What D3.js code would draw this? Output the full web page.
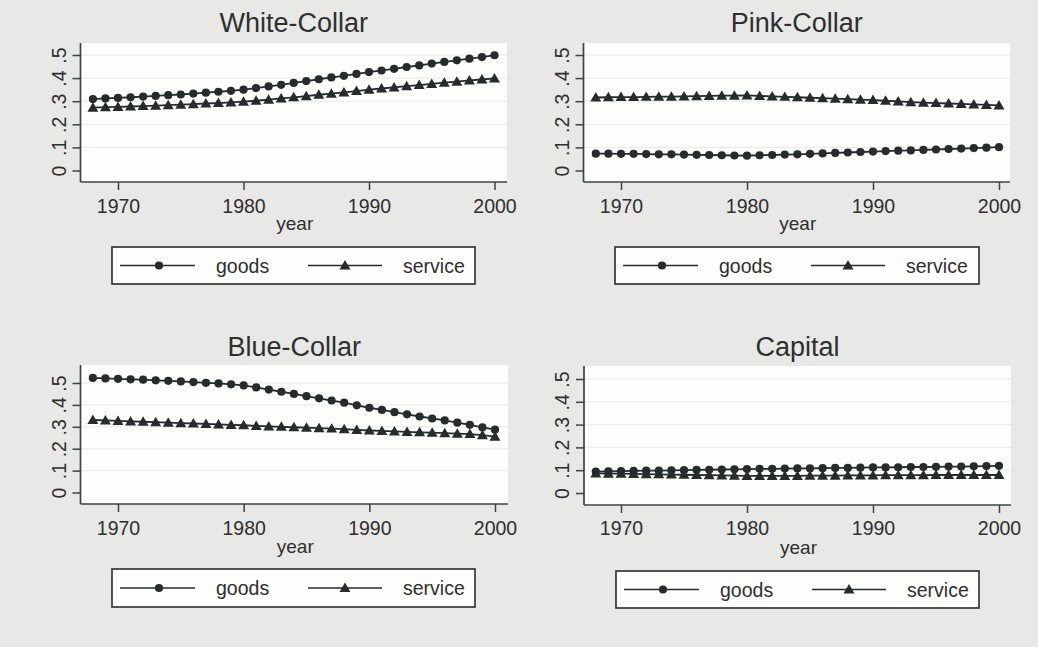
<!DOCTYPE html>
<html>
<head>
<meta charset="utf-8">
<script src="https://cdn.jsdelivr.net/npm/d3@7"></script>
<style>
  html, body { margin: 0; padding: 0; background: #e8e8e6; }
  svg { display: block; font-family: "Liberation Sans", Arial, sans-serif; }
</style>
</head>
<body>
<svg id="chart" width="1038" height="647"></svg>
<script>
// ---------------- DATA ----------------
const years = [1968,1969,1970,1971,1972,1973,1974,1975,1976,1977,1978,1979,1980,
               1981,1982,1983,1984,1985,1986,1987,1988,1989,1990,
               1991,1992,1993,1994,1995,1996,1997,1998,1999,2000];

const panelTitles = ["White-Collar", "Pink-Collar", "Blue-Collar", "Capital"];
const seriesNames = ["goods", "service"];

const whiteGoods   = [.309,.312,.314,.317,.320,.323,.326,.329,.333,.337,.341,.345,.350,
                      .357,.364,.371,.379,.387,.395,.403,.410,.418,.426,
                      .433,.440,.448,.455,.463,.470,.477,.484,.491,.499];
const whiteService = [.272,.274,.275,.277,.279,.281,.283,.285,.287,.290,.292,.295,.298,
                      .302,.307,.312,.317,.322,.328,.333,.338,.344,.350,
                      .355,.360,.365,.370,.375,.380,.385,.390,.394,.399];

const pinkGoods    = [.073,.073,.072,.072,.071,.070,.070,.069,.068,.067,.066,.065,.064,
                      .066,.067,.069,.070,.072,.074,.076,.078,.080,.082,
                      .084,.086,.087,.089,.091,.093,.095,.097,.099,.101];
const pinkService  = [.316,.317,.318,.318,.319,.320,.320,.321,.322,.323,.324,.324,.325,
                      .323,.321,.319,.317,.315,.313,.311,.309,.307,.305,
                      .302,.299,.296,.294,.292,.290,.288,.286,.284,.282];

const blueGoods    = [.523,.521,.519,.517,.515,.512,.510,.507,.504,.501,.498,.494,.489,
                      .480,.470,.460,.450,.440,.430,.420,.410,.398,.387,
                      .377,.367,.357,.347,.338,.329,.319,.309,.297,.287];
const blueService  = [.331,.329,.327,.325,.323,.321,.319,.317,.315,.313,.311,.309,.307,
                      .304,.302,.300,.298,.296,.294,.292,.289,.286,.283,
                      .281,.279,.277,.275,.273,.271,.269,.267,.262,.255];

const capitalGoods   = [.094,.095,.096,.097,.098,.098,.099,.100,.101,.102,.103,.104,.105,
                        .106,.106,.107,.108,.108,.109,.110,.110,.111,.112,
                        .112,.113,.114,.114,.115,.116,.116,.117,.118,.119];
const capitalService = [.086,.085,.085,.084,.083,.082,.081,.080,.079,.078,.077,.076,.075,
                        .075,.075,.075,.075,.076,.076,.076,.077,.077,.077,
                        .078,.078,.078,.078,.079,.079,.079,.079,.079,.079];

const xTicks = [1970, 1980, 1990, 2000];
const yTicks = [0, .1, .2, .3, .4, .5];
const yTickLabels = ["0", ".1", ".2", ".3", ".4", ".5"];
const xAxisTitle = "year";

// ---------------- LAYOUT ----------------
const layout = [
  {left:80.5, right:507, top:43, axisY:182, y0:170.5, y5:55, x1:118, x2:494.5,
   titleY:32, tickLabY:213, xlabY:230, lg:{x:112, y:247, w:363, h:37}},
  {left:583.5, right:1010, top:43, axisY:182, y0:170.5, y5:55, x1:621, x2:999,
   titleY:32, tickLabY:213, xlabY:230, lg:{x:615, y:247, w:364, h:37}},
  {left:80.5, right:508, top:365, axisY:504, y0:492.5, y5:383, x1:118, x2:495,
   titleY:356, tickLabY:535, xlabY:553, lg:{x:112, y:569, w:363, h:38}},
  {left:584, right:1011, top:366, axisY:505, y0:493, y5:379, x1:621, x2:999,
   titleY:356, tickLabY:535, xlabY:554, lg:{x:616, y:571, w:363, h:37}}
];

const panelData = [
  [whiteGoods, whiteService],
  [pinkGoods, pinkService],
  [blueGoods, blueService],
  [capitalGoods, capitalService]
];

const ink = "#262b2b";
const axisInk = "#3a4545";
const textInk = "#2f2f2f";

const svg = d3.select("#chart");

const triangle = d3.symbol().type(d3.symbolTriangle).size(52);

function marker(g, kind, x, y) {
  if (kind === 0) {
    g.append("circle").attr("cx", x).attr("cy", y).attr("r", 4.1).attr("fill", ink);
  } else {
    g.append("path").attr("d", triangle).attr("transform", `translate(${x},${y + 0.9})`).attr("fill", ink);
  }
}

layout.forEach((L, i) => {
  const g = svg.append("g");
  const x = d3.scaleLinear().domain([xTicks[0], xTicks[xTicks.length - 1]]).range([L.x1, L.x2]);
  const y = d3.scaleLinear().domain([yTicks[0], yTicks[yTicks.length - 1]]).range([L.y0, L.y5]);

  // plot region
  g.append("rect").attr("x", L.left).attr("y", L.top)
    .attr("width", L.right - L.left).attr("height", L.axisY - L.top)
    .attr("fill", "#fdfdfc");

  // gridlines
  g.selectAll(".grid").data(yTicks.slice(1)).join("line")
    .attr("x1", L.left).attr("x2", L.right)
    .attr("y1", d => y(d)).attr("y2", d => y(d))
    .attr("stroke", "#e8eae8").attr("stroke-width", 1);

  // title
  g.append("text").attr("x", (L.left + L.right) / 2).attr("y", L.titleY)
    .attr("text-anchor", "middle").attr("font-size", 27).attr("fill", textInk)
    .text(panelTitles[i]);

  // y axis
  const ya = g.append("g").attr("transform", `translate(${L.left},0)`)
    .call(d3.axisLeft(y).tickValues(yTicks).tickSize(8).tickPadding(0)
          .tickFormat((d, k) => yTickLabels[k]).tickSizeOuter(0));
  ya.select(".domain").attr("d", `M0,${L.top}V${L.axisY}`).attr("stroke", axisInk).attr("stroke-width", 1.7);
  ya.selectAll(".tick line").attr("stroke", axisInk).attr("stroke-width", 1.5);
  ya.selectAll(".tick text")
    .attr("x", 0).attr("y", 0).attr("dy", 0)
    .attr("transform", "translate(-15,0) rotate(-90)")
    .attr("text-anchor", "middle")
    .attr("font-size", 19.5).attr("fill", textInk)
    .attr("font-family", "Liberation Sans, Arial, sans-serif");

  // x axis
  const xa = g.append("g").attr("transform", `translate(0,${L.axisY})`)
    .call(d3.axisBottom(x).tickValues(xTicks).tickSize(8).tickSizeOuter(0).tickFormat(d3.format("d")));
  xa.select(".domain").attr("d", `M${L.left},0H${L.right}`).attr("stroke", axisInk).attr("stroke-width", 1.7);
  xa.selectAll(".tick line").attr("stroke", axisInk).attr("stroke-width", 1.5);
  xa.selectAll(".tick text")
    .attr("y", L.tickLabY - L.axisY).attr("dy", 0)
    .attr("font-size", 19.5).attr("fill", textInk)
    .attr("font-family", "Liberation Sans, Arial, sans-serif");

  // x axis title
  g.append("text").attr("x", (L.left + L.right) / 2 + 1).attr("y", L.xlabY)
    .attr("text-anchor", "middle").attr("font-size", 19).attr("fill", textInk)
    .text(xAxisTitle);

  // series
  const line = d3.line().x((d, k) => x(years[k])).y(d => y(d));
  panelData[i].forEach((vals, s) => {
    g.append("path").datum(vals).attr("d", line)
      .attr("fill", "none").attr("stroke", ink).attr("stroke-width", 1.8);
    vals.forEach((v, k) => marker(g, s, x(years[k]), y(v)));
  });

  // legend
  const lg = L.lg;
  const leg = g.append("g").attr("transform", `translate(${lg.x},${lg.y})`);
  leg.append("rect").attr("x", 0).attr("y", 0).attr("width", lg.w).attr("height", lg.h)
    .attr("fill", "#fdfdfc").attr("stroke", "#333838").attr("stroke-width", 1.7);
  const items = [
    {x1: 8, x2: 83, m: 47, tx: 104},
    {x1: 196, x2: 270, m: 233, tx: 291}
  ];
  seriesNames.forEach((name, s) => {
    const it = items[s];
    const ly = lg.h / 2;
    leg.append("line").attr("x1", it.x1).attr("x2", it.x2).attr("y1", ly).attr("y2", ly)
      .attr("stroke", ink).attr("stroke-width", 1.4);
    marker(leg, s, it.m, ly);
    leg.append("text").attr("x", it.tx).attr("y", ly + 7)
      .attr("font-size", 19.5).attr("fill", textInk).text(name);
  });
});
</script>
</body>
</html>
